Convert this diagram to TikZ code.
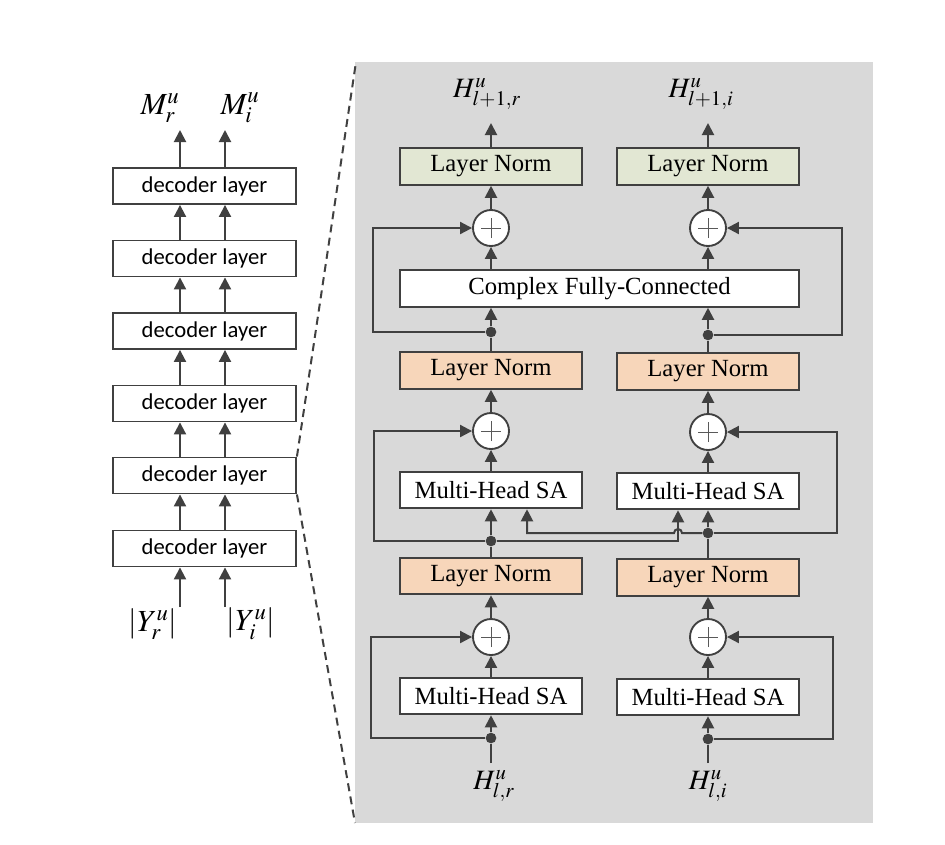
\documentclass[tikz,border=0pt]{standalone}
\usepackage{mathptmx}
\usepackage{fontspec}
\setmainfont{Liberation Serif}
\newfontfamily\calib{Carlito}
\usetikzlibrary{arrows.meta}
\definecolor{lc}{RGB}{64,64,64}
\definecolor{panel}{RGB}{217,217,217}
\definecolor{lngreen}{RGB}{226,231,211}
\definecolor{lnorange}{RGB}{247,214,186}
\tikzset{
  arr/.style={draw=lc, line width=1.5pt, -{Triangle[length=9pt,width=9pt]}},
  ln/.style={draw=lc, line width=1.5pt},
  box/.style={draw=lc, line width=1.4pt, fill=white, minimum width=136.5pt, minimum height=27.5pt, inner sep=0pt, font=\fontsize{18.5}{20}\selectfont},
  greenbox/.style={box, fill=lngreen},
  orangebox/.style={box, fill=lnorange},
  dbox/.style={box, minimum width=137.25pt, minimum height=27pt, font=\calib\fontsize{17}{19}\selectfont},
  plus/.style={circle, draw=lc, line width=1.4pt, fill=white, minimum size=27pt, inner sep=0pt,
    path picture={\draw[gray!70!black, line width=0.6pt] (path picture bounding box.center) +(-7.5pt,0) -- +(7.5pt,0) (path picture bounding box.center) +(0,-7.5pt) -- +(0,7.5pt);}},
  dot/.style={circle, fill=lc, minimum size=8pt, inner sep=0pt},
  mlab/.style={inner sep=0pt, font=\fontsize{23}{25}\selectfont},
  hlab/.style={inner sep=0pt, font=\fontsize{21}{23}\selectfont},
  dashline/.style={draw=lc, line width=1.5pt, dash pattern=on 6pt off 4pt}
}
\begin{document}
\begin{tikzpicture}[x=0.75pt,y=-0.75pt]
\useasboundingbox (0,0) rectangle (945,844);
\fill[white] (0,0) rectangle (945,844);
\fill[panel] (355,62) rectangle (873,823);

% ---------- left stack ----------
\coordinate (cl) at (180,0);
\coordinate (ci) at (225,0);
\foreach \i/\y in {1/186,2/258.5,3/331,4/403.5,5/475.5,6/548.5}
  \node[dbox] (dl\i) at (204.5,\y) {decoder layer};
\foreach \i/\j in {2/1,3/2,4/3,5/4,6/5}{
  \draw[arr] (dl\i.north -| cl) -- (dl\j.south -| cl);
  \draw[arr] (dl\i.north -| ci) -- (dl\j.south -| ci);
}
\node[mlab] (mr) at (160,108) {$M_r^u$};
\node[mlab] (mi) at (240,108) {$M_i^u$};
\coordinate (mrEnd) at (180,130);
\coordinate (miEnd) at (225,130);
\draw[arr] (dl1.north -| cl) -- (mrEnd);
\draw[arr] (dl1.north -| ci) -- (miEnd);
\node[mlab] (yr) at (153,624) {$|Y_r^u|$};
\node[mlab] (yi) at (251,624) {$|Y_i^u|$};
\coordinate (yrStart) at (180,607);
\coordinate (yiStart) at (225,607);
\draw[arr] (yrStart) -- (dl6.south -| cl);
\draw[arr] (yiStart) -- (dl6.south -| ci);

% zoom lines
\coordinate (pTop) at (356,62);
\coordinate (pBot) at (355,823);
\draw[dashline] (dl5.north east) -- (pTop);
\draw[dashline] (dl5.south east) -- (pBot);

% ---------- right panel ----------
\node[hlab] (outR) at (487,94) {$H^u_{l+1,r}$};
\node[hlab] (outI) at (701,94) {$H^u_{l+1,i}$};
\coordinate (outRend) at (491,123);
\coordinate (outIend) at (708,123);

\node[greenbox] (lnTopL) at (491,166.5) {Layer Norm};
\node[greenbox] (lnTopR) at (708,166.5) {Layer Norm};
\node[plus] (plTopL) at (491,228) {};
\node[plus] (plTopR) at (708,228) {};
\node[box, minimum width=299.25pt] (cfc) at (599.5,288.5) {Complex Fully-Connected};
\node[dot] (dTopL) at (491,332) {};
\node[dot] (dTopR) at (708,335) {};
\node[orangebox] (lnMidL) at (491,370.5) {Layer Norm};
\node[orangebox] (lnMidR) at (708,371.5) {Layer Norm};
\node[plus] (plMidL) at (491,431) {};
\node[plus] (plMidR) at (708,432) {};
\node[box] (saMidL) at (491,490) {Multi-Head SA};
\node[box] (saMidR) at (708,491) {Multi-Head SA};
\node[dot] (dMidL) at (491,541) {};
\node[dot] (dMidR) at (708,533) {};
\node[orangebox] (lnLowL) at (491,576) {Layer Norm};
\node[orangebox] (lnLowR) at (708,577.5) {Layer Norm};
\node[plus] (plLowL) at (491,637) {};
\node[plus] (plLowR) at (708,637) {};
\node[box] (saLowL) at (491,696) {Multi-Head SA};
\node[box] (saLowR) at (708,697) {Multi-Head SA};
\node[dot] (dLowL) at (491,738) {};
\node[dot] (dLowR) at (708,739) {};
\node[hlab] (inL) at (494,786) {$H^u_{l,r}$};
\node[hlab] (inI) at (708,786) {$H^u_{l,i}$};
\coordinate (inLstart) at (491,763);
\coordinate (inIstart) at (708,763);

% vertical chains
\draw[ln] (inLstart) -- (dLowL);
\draw[ln] (inIstart) -- (dLowR);
\foreach \s in {L,R}{
  \draw[arr] (dLow\s) -- (saLow\s.south);
  \draw[arr] (saLow\s.north) -- (plLow\s.south);
  \draw[arr] (plLow\s.north) -- (lnLow\s.south);
  \draw[ln] (lnLow\s.north) -- (dMid\s);
  \draw[arr] (dMid\s) -- (saMid\s.south);
  \draw[arr] (saMid\s.north) -- (plMid\s.south);
  \draw[arr] (plMid\s.north) -- (lnMid\s.south);
  \draw[ln] (lnMid\s.north) -- (dTop\s);
  \draw[arr] (dTop\s) -- (dTop\s |- cfc.south);
  \draw[arr] (dTop\s |- cfc.north) -- (plTop\s.south);
  \draw[arr] (plTop\s.north) -- (lnTop\s.south);
}
\draw[arr] (lnTopL.north) -- (outRend);
\draw[arr] (lnTopR.north) -- (outIend);

% residual loops
\draw[arr] (dLowL) -- (371,738) -- (371,637) -- (plLowL.west);
\draw[arr] (dLowR) -- (833,739) -- (833,637) -- (plLowR.east);
\draw[arr] (dMidL) -- (374,541) -- (374,431) -- (plMidL.west);
\draw[arr] (dMidR) -- (837,533) -- (837,432) -- (plMidR.east);
\draw[arr] (dTopL) -- (373,332) -- (373,228) -- (plTopL.west);
\draw[arr] (dTopR) -- (842,335) -- (842,228) -- (plTopR.east);

% cross connections
\coordinate (xA) at (678,0);
\coordinate (xB) at (527,0);
\draw[arr] (dMidL) -- (dMidL -| xA) -- (saMidR.south -| xA);
\draw[arr] (dMidR) -- (682,533) arc[start angle=0, end angle=180, radius=3pt] -- (527,533) -- (saMidL.south -| xB);
\end{tikzpicture}
\end{document}
